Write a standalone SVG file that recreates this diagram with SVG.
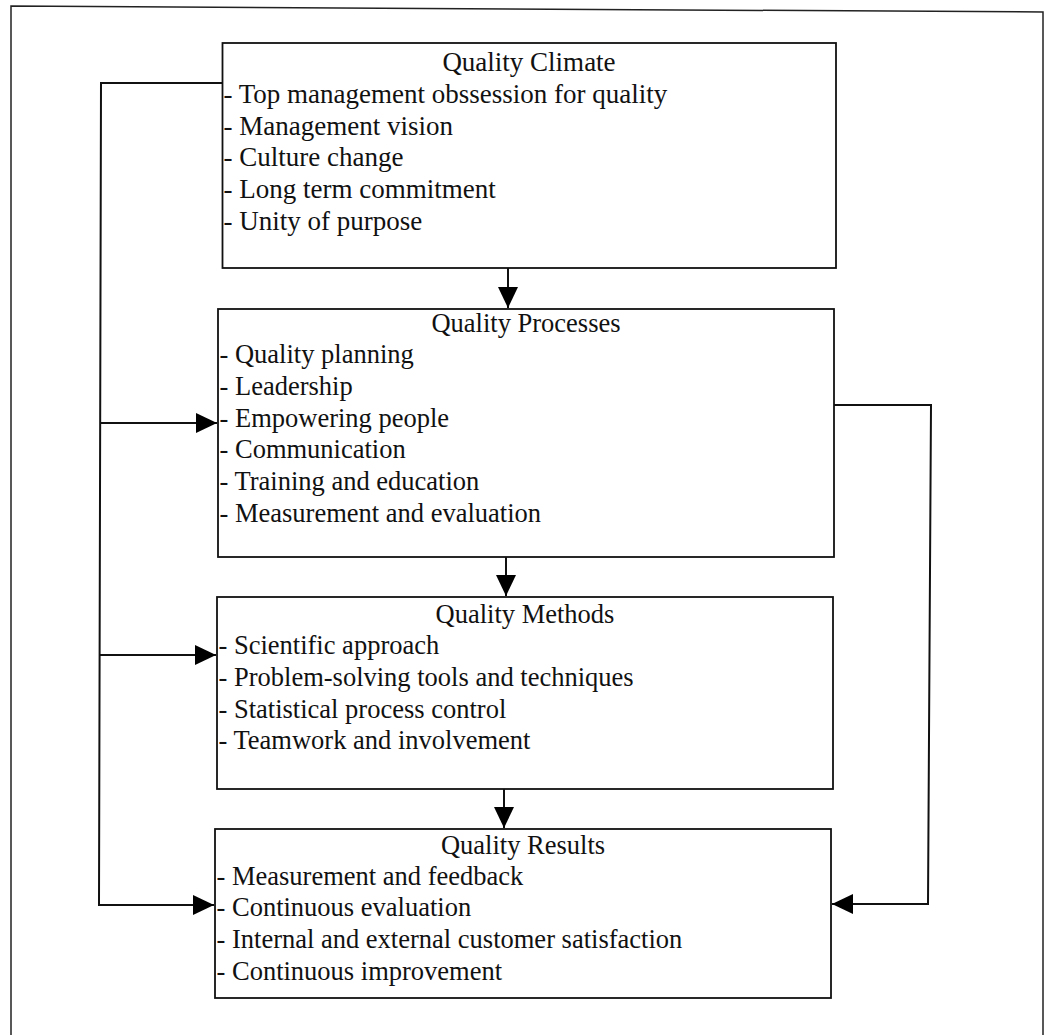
<svg xmlns="http://www.w3.org/2000/svg" width="1046" height="1035" viewBox="0 0 1046 1035">
  <style>
    .frame { fill: none; stroke: #222; stroke-width: 1.5; }
    .box { fill: #fff; stroke: #111; stroke-width: 1.8; }
    .wire { fill: none; stroke: #111; stroke-width: 2; }
    .arrow { marker-end: url(#head); }
    text { font-family: "Liberation Serif", "Times New Roman", serif; font-size: 26.5px; fill: #111; }
    #quality-climate text { font-size: 27px; }
    .title { text-anchor: middle; }
  </style>
  <defs>
    <marker id="head" markerUnits="userSpaceOnUse" markerWidth="22" markerHeight="20" refX="21" refY="10" orient="auto">
      <path d="M0,0 L21,10 L0,20 Z" fill="#000"/>
    </marker>
  </defs>

  <rect width="1046" height="1035" fill="#fff"/>

  <!-- page border -->
  <path class="frame" d="M11,1035 L11,6 L1043,12 L1043,1035"/>

  <g id="connectors">
    <!-- vertical flow between the stages -->
    <line class="wire arrow" x1="508" y1="268" x2="508" y2="308"/>
    <line class="wire arrow" x1="506" y1="557" x2="506" y2="596"/>
    <line class="wire arrow" x1="504" y1="789" x2="504" y2="828"/>
    <!-- left feed from Quality Climate -->
    <polyline class="wire arrow" points="222,83 101,83 99,905 214,905"/>
    <line class="wire arrow" x1="101" y1="423" x2="217" y2="423"/>
    <line class="wire arrow" x1="100" y1="655" x2="216" y2="655"/>
    <!-- right feed from Quality Processes -->
    <polyline class="wire arrow" points="834,405 931,405 928,904 832,904"/>
  </g>

  <g id="quality-climate">
    <rect class="box" x="222.5" y="43" width="613.5" height="225"/>
    <text class="title" x="529" y="71">Quality Climate</text>
    <text x="223.5" y="103">- Top management obssession for quality</text>
    <text x="223.5" y="134.7">- Management vision</text>
    <text x="223.5" y="166.4">- Culture change</text>
    <text x="223.5" y="198.1">- Long term commitment</text>
    <text x="223.5" y="229.8">- Unity of purpose</text>
  </g>

  <g id="quality-processes">
    <rect class="box" x="218" y="309" width="616" height="248"/>
    <text class="title" x="526" y="332">Quality Processes</text>
    <text x="219.5" y="363">- Quality planning</text>
    <text x="219.5" y="395">- Leadership</text>
    <text x="219.5" y="426.5">- Empowering people</text>
    <text x="219.5" y="458">- Communication</text>
    <text x="219.5" y="490">- Training and education</text>
    <text x="219.5" y="521.5">- Measurement and evaluation</text>
  </g>

  <g id="quality-methods">
    <rect class="box" x="217" y="597" width="616" height="192"/>
    <text class="title" x="525" y="623">Quality Methods</text>
    <text x="218.5" y="654">- Scientific approach</text>
    <text x="218.5" y="686">- Problem-solving tools and techniques</text>
    <text x="218.5" y="718">- Statistical process control</text>
    <text x="218.5" y="749">- Teamwork and involvement</text>
  </g>

  <g id="quality-results">
    <rect class="box" x="215" y="829" width="616" height="169"/>
    <text class="title" x="523" y="854">Quality Results</text>
    <text x="216.5" y="885">- Measurement and feedback</text>
    <text x="216.5" y="916">- Continuous evaluation</text>
    <text x="216.5" y="948">- Internal and external customer satisfaction</text>
    <text x="216.5" y="980">- Continuous improvement</text>
  </g>
</svg>
